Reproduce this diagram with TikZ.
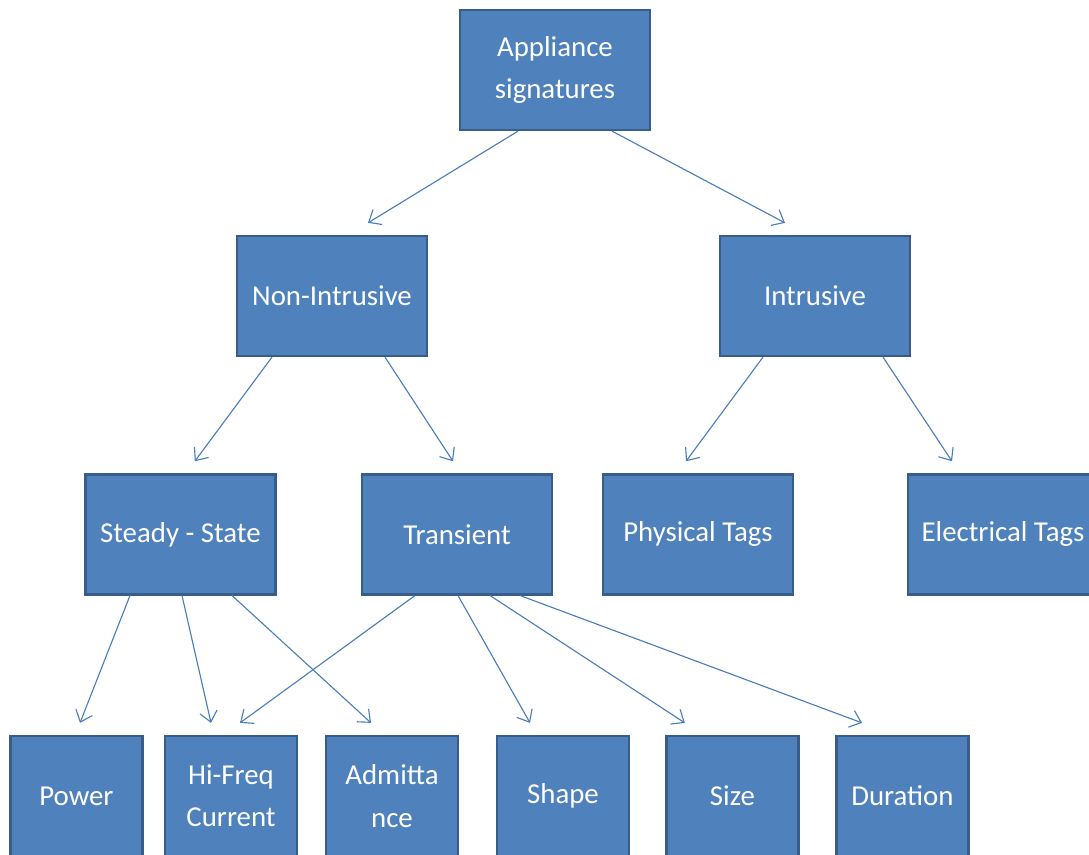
\documentclass[tikz,border=0pt]{standalone}
\usepackage{fontspec}
\setmainfont{Carlito}
\usepackage{xcolor}
\usepackage{tikz}
\usetikzlibrary{arrows.meta, positioning, calc}
\definecolor{boxfill}{RGB}{79,129,189}
\definecolor{boxedge}{RGB}{56,93,138}
\definecolor{linkblue}{RGB}{74,126,187}
\tikzset{
  sigbox/.style={rectangle, draw=boxedge, fill=boxfill, text=white,
    minimum width=4.75cm, minimum height=3.0cm, align=center,
    font=\fontsize{20.5}{30}\selectfont, line width=1.6pt},
  leafbox/.style={sigbox, minimum width=3.3cm},
  link/.style={-{Straight Barb[length=2.6mm, width=4.4mm]}, line width=0.8pt, color=linkblue}
}
\begin{document}
\begin{tikzpicture}
  \useasboundingbox (0,0) rectangle (27.225,21.35);

  % Root
  \node[sigbox] (sig) at (13.875,19.6) {Appliance\\signatures};

  % Level 1
  \node[sigbox] (nonin) at (8.3,13.95) {Non-Intrusive};
  \node[sigbox] (intr) at (20.375,13.95) {Intrusive};

  % Level 2
  \node[sigbox] (steady) at (4.51,7.99) {Steady - State};
  \node[sigbox] (trans) at (11.425,7.99) {Transient};
  \node[sigbox] (phys) at (17.45,7.99) {Physical Tags};
  \node[sigbox] (elec) at (25.075,7.99) {Electrical Tags};

  % Level 3
  \node[leafbox] (power) at (1.91,1.45) {Power};
  \node[leafbox] (hifreq) at (5.775,1.45) {Hi-Freq\\Current};
  \node[leafbox] (admit) at (9.8,1.45) {Admitta\\nce};
  \node[leafbox] (shape) at (14.075,1.45) {Shape};
  \node[leafbox] (size) at (18.31,1.45) {Size};
  \node[leafbox] (durat) at (22.56,1.45) {Duration};

  % Root to level 1
  \draw[link] ([xshift=-0.925cm]sig.south) -- ([xshift=0.9cm, yshift=0.3cm]nonin.north);
  \draw[link] ([xshift=1.425cm]sig.south) -- ([xshift=-0.75cm, yshift=0.3cm]intr.north);

  % Level 1 to level 2
  \draw[link] ([xshift=-1.5cm]nonin.south) -- ([xshift=0.36cm, yshift=0.3cm]steady.north);
  \draw[link] ([xshift=1.325cm]nonin.south) -- ([xshift=-0.1cm, yshift=0.3cm]trans.north);
  \draw[link] ([xshift=-1.3cm]intr.south) -- ([xshift=-0.3cm, yshift=0.3cm]phys.north);
  \draw[link] ([xshift=1.7cm]intr.south) -- ([xshift=-1.275cm, yshift=0.3cm]elec.north);

  % Steady - State to level 3
  \draw[link] ([xshift=-1.26cm]steady.south) -- ([xshift=0.09cm, yshift=0.3cm]power.north);
  \draw[link] ([xshift=0.04cm]steady.south) -- ([xshift=-0.5cm, yshift=0.3cm]hifreq.north);
  \draw[link] ([xshift=1.29cm]steady.south) -- ([xshift=-0.525cm, yshift=0.3cm]admit.north);

  % Transient to level 3
  \draw[link] ([xshift=-1.05cm]trans.south) -- ([xshift=0.225cm, yshift=0.3cm]hifreq.north);
  \draw[link] ([xshift=0.025cm]trans.south) -- ([xshift=-0.825cm, yshift=0.3cm]shape.north);
  \draw[link] ([xshift=0.825cm]trans.south) -- ([xshift=-1.19cm, yshift=0.3cm]size.north);
  \draw[link] ([xshift=1.575cm]trans.south) -- ([xshift=-1.01cm, yshift=0.3cm]durat.north);
\end{tikzpicture}
\end{document}
